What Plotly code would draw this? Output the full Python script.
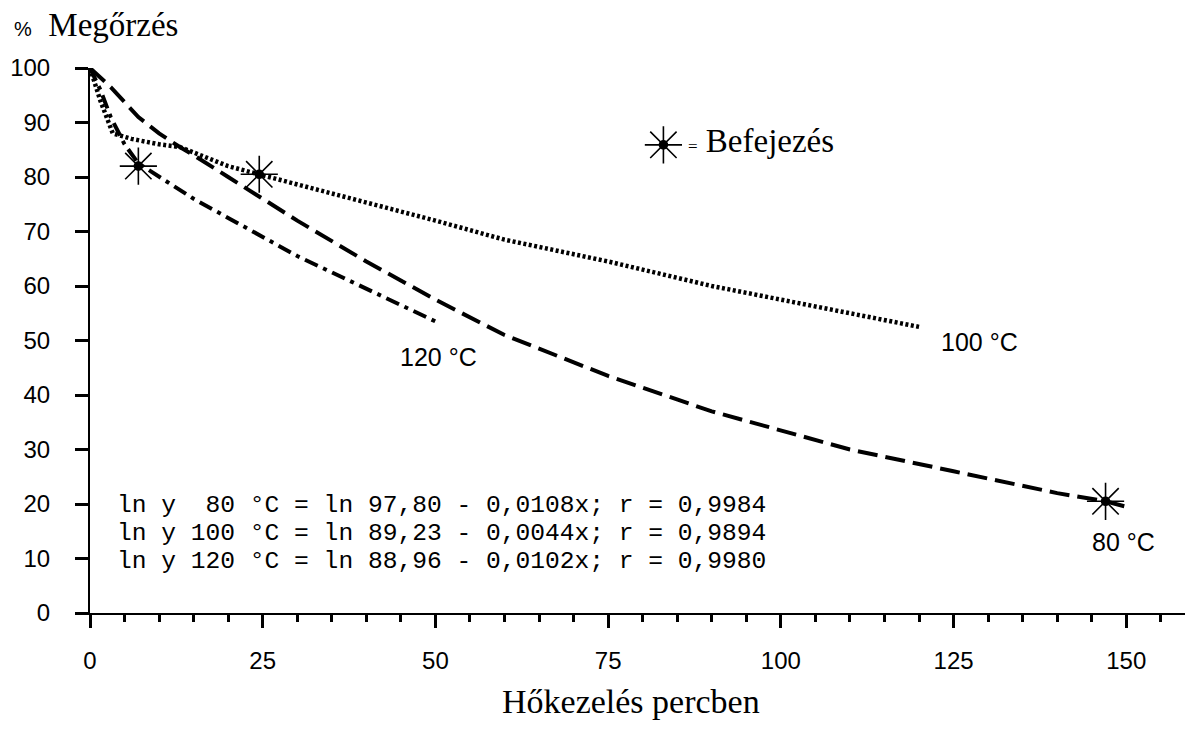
import plotly.graph_objects as go

# 80 °C (dashed)
x80 = [0, 3, 7, 10, 13, 15, 20, 25, 30, 40, 50, 60, 75, 90, 100, 110, 125, 140, 147, 150]
y80 = [100, 96.5, 91, 88, 85.5, 84, 80, 76, 72, 64.5, 57.5, 51, 43.5, 37, 33.5, 30, 26, 22, 20.5, 19.5]
# 100 °C (dotted)
x100 = [0, 1.5, 3.3, 6, 10, 13, 15, 20, 25, 35, 50, 60, 75, 90, 100, 110, 120]
y100 = [100, 94, 88, 87, 86, 85.5, 84.5, 82, 80.3, 77, 72, 68.5, 64.5, 60, 57.5, 55, 52.5]
# 120 °C (dash-dot)
x120 = [0, 1.5, 3, 5, 7, 10, 15, 20, 25, 30, 35, 40, 45, 50]
y120 = [100, 96, 91, 86, 82.5, 80, 76, 72.5, 69, 65.5, 62.5, 59.5, 56.5, 53.5]

# end points (Befejezés)
end_x = [7, 24.5, 147]
end_y = [82, 80.5, 20.5]

equations = [
    "ln y  80 °C = ln 97,80 - 0,0108x; r = 0,9984",
    "ln y 100 °C = ln 89,23 - 0,0044x; r = 0,9894",
    "ln y 120 °C = ln 88,96 - 0,0102x; r = 0,9980",
]
x_ticks = [0, 25, 50, 75, 100, 125, 150]
y_ticks = [0, 10, 20, 30, 40, 50, 60, 70, 80, 90, 100]

fig = go.Figure()
fig.add_trace(go.Scatter(x=x80, y=y80, mode="lines", line=dict(color="black", width=4, dash="20px,8px"), cliponaxis=False))
fig.add_trace(go.Scatter(x=x100, y=y100, mode="lines", line=dict(color="black", width=4.5, dash="3px,2.5px"), cliponaxis=False))
fig.add_trace(go.Scatter(x=x120, y=y120, mode="lines", line=dict(color="black", width=4, dash="14px,6px,4px,6px"), cliponaxis=False))
for sym, size in [("asterisk-open", 31), ("circle", 8)]:
    fig.add_trace(go.Scatter(x=end_x + [83], y=end_y + [85.9], mode="markers",
                             marker=dict(symbol=sym, size=size, color="black",
                                         line=dict(color="black", width=1.6)),
                             cliponaxis=False))

sans = "Liberation Sans"
serif = "Liberation Serif"
mono = "Liberation Mono"

ann = []
ann.append(dict(x=86.3, y=86.6, xref="x", yref="y", xanchor="left", yanchor="middle",
                text="<span style='font-size:17px'>=</span> Befejezés", showarrow=False,
                font=dict(family=serif, size=33, color="black")))
for i, eq in enumerate(equations):
    ann.append(dict(x=3.6, y=19.8 - i * 5.2, xref="x", yref="y", xanchor="left", yanchor="middle",
                    text=eq, showarrow=False, font=dict(family=mono, size=24.6, color="black")))
ann.append(dict(x=50.4, y=47, xref="x", yref="y", xanchor="center", yanchor="middle",
                text="120 °C", showarrow=False, font=dict(family=sans, size=25, color="black")))
ann.append(dict(x=128.7, y=49.7, xref="x", yref="y", xanchor="center", yanchor="middle",
                text="100 °C", showarrow=False, font=dict(family=sans, size=25, color="black")))
ann.append(dict(x=149.6, y=13.0, xref="x", yref="y", xanchor="center", yanchor="middle",
                text="80 °C", showarrow=False, font=dict(family=sans, size=25, color="black")))
ann.append(dict(x=-0.071, y=1.078, xref="paper", yref="paper", xanchor="left", yanchor="middle",
                text="<span style='font-family:Liberation Sans;font-size:20px'>%</span>  Megőrzés",
                showarrow=False, font=dict(family=serif, size=33, color="black")))
ann.append(dict(x=0.494, y=-0.163, xref="paper", yref="paper", xanchor="center", yanchor="middle",
                text="Hőkezelés percben", showarrow=False, font=dict(family=serif, size=34, color="black")))

fig.update_layout(
    width=1196, height=726,
    margin=dict(l=82, r=19, t=60, b=121, autoexpand=False),
    plot_bgcolor="white", paper_bgcolor="white",
    showlegend=False,
    annotations=ann,
    xaxis=dict(range=[0, 158.5], automargin=False, showgrid=False, zeroline=False, showline=True,
               linecolor="black", linewidth=2, ticks="outside", ticklen=13, tickwidth=3,
               tickcolor="black", tickvals=x_ticks, ticklabelstandoff=12,
               tickfont=dict(family=sans, size=24, color="black"),
               minor=dict(dtick=5, tick0=0, ticks="outside", ticklen=7, tickwidth=3, tickcolor="black")),
    yaxis=dict(range=[0, 100], automargin=False, showgrid=False, zeroline=False, showline=True,
               linecolor="black", linewidth=2, ticks="outside", ticklen=13, tickwidth=3,
               tickcolor="black", tickvals=y_ticks, ticklabelstandoff=20,
               tickfont=dict(family=sans, size=24, color="black")),
)
fig.write_html("out.html")
